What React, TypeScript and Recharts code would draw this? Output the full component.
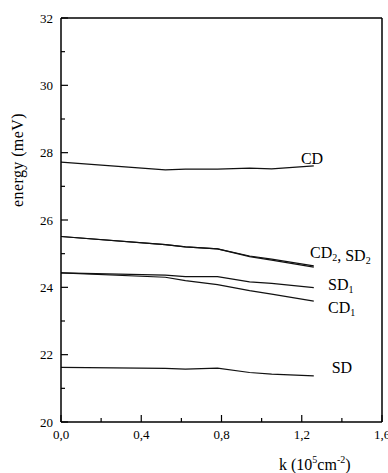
import { LineChart, Line, XAxis, YAxis, ReferenceLine, ReferenceDot } from "recharts";

// wave vector k (10^5 cm^-2) and mode energies (meV)
const K = [0, 0.52, 0.62, 0.78, 0.94, 1.05, 1.26];
const CD = [27.72, 27.49, 27.51, 27.51, 27.54, 27.52, 27.61];
const CD2 = [25.51, 25.27, 25.2, 25.14, 24.93, 24.84, 24.64];
const SD2 = [25.51, 25.27, 25.2, 25.14, 24.91, 24.81, 24.6];
const SD1 = [24.43, 24.36, 24.32, 24.32, 24.16, 24.12, 23.99];
const CD1 = [24.43, 24.3, 24.2, 24.08, 23.9, 23.8, 23.59];
const SD = [21.62, 21.59, 21.57, 21.6, 21.47, 21.42, 21.37];

const X_TICKS = [0, 0.2, 0.4, 0.6, 0.8, 1.0, 1.2, 1.4, 1.6];
const X_LABELED = [0, 0.4, 0.8, 1.2, 1.6];
const Y_TICKS = [20, 21, 22, 23, 24, 25, 26, 27, 28, 29, 30, 31, 32];

// curve labels: text, subscript, anchor (k, energy) at the text's left baseline
const CURVE_LABELS = [
  { parts: [["CD", ""]], k: 1.196, e: 27.65 },
  { parts: [["CD", "2"], [", SD", "2"]], k: 1.241, e: 24.86 },
  { parts: [["SD", "1"]], k: 1.331, e: 23.91 },
  { parts: [["CD", "1"]], k: 1.331, e: 23.23 },
  { parts: [["SD", ""]], k: 1.349, e: 21.45 },
];

const SERIES = [
  { key: "cd", values: CD },
  { key: "cd2", values: CD2 },
  { key: "sd2", values: SD2 },
  { key: "sd1", values: SD1 },
  { key: "cd1", values: CD1 },
  { key: "sd", values: SD },
];

const data = K.map((k, i) => {
  const row: Record<string, number> = { k };
  SERIES.forEach((s) => (row[s.key] = s.values[i]));
  return row;
});

const FONT = "'Liberation Serif', 'Times New Roman', serif";
const W = 388;
const H = 473;
const TOP = 18;
const LEFT = 61;
const BOTTOM = 422;

const fmt = (v: number) => v.toFixed(1).replace(".", ",");

function XTick(props: any) {
  const { x, payload } = props;
  const major = X_LABELED.some((t) => Math.abs(t - payload.value) < 1e-6);
  return (
    <g>
      <line x1={x} x2={x} y1={BOTTOM} y2={BOTTOM - (major ? 7 : 4)} stroke="#000" strokeWidth={1.2} />
      {major && (
        <text x={x} y={438.5} textAnchor="middle" fontFamily={FONT} fontSize={13} fill="#000">
          {fmt(payload.value)}
        </text>
      )}
    </g>
  );
}

function YTick(props: any) {
  const { y, payload } = props;
  const major = payload.value % 2 === 0;
  return (
    <g>
      <line x1={LEFT} x2={LEFT + (major ? 7 : 4)} y1={y} y2={y} stroke="#000" strokeWidth={1.2} />
      {major && (
        <text x={53} y={y + 4.5} textAnchor="end" fontFamily={FONT} fontSize={13} fill="#000">
          {payload.value}
        </text>
      )}
    </g>
  );
}

function curveLabel(parts: string[][]) {
  return (p: any) => {
    const vb = p.viewBox || {};
    const x = vb.x + (vb.width || 0) / 2;
    const y = vb.y + (vb.height || 0) / 2;
    return (
      <text x={x} y={y} fontFamily={FONT} fontSize={16} fill="#000">
        {parts.map(([main, sub], i) => (
          <tspan key={i}>
            <tspan>{main}</tspan>
            {sub && (
              <tspan fontSize={10} dy={3}>
                {sub}
              </tspan>
            )}
            {sub && <tspan dy={-3}>{""}</tspan>}
          </tspan>
        ))}
      </text>
    );
  };
}

export default function App() {
  return (
    <div style={{ position: "absolute", left: 0, top: 0, width: W, height: H, background: "#fff" }}>
      <LineChart
        width={W}
        height={H}
        data={data}
        margin={{ top: TOP, right: W - 382, left: 0, bottom: 0 }}
      >
        <XAxis
          dataKey="k"
          type="number"
          domain={[0, 1.6]}
          ticks={X_TICKS}
          interval={0}
          height={H - BOTTOM}
          tickLine={false}
          axisLine={{ stroke: "#000", strokeWidth: 1.5 }}
          tick={<XTick />}
          label={{
            content: () => (
              <text x={279} y={470} fontFamily={FONT} fontSize={16} fill="#000">
                <tspan>k (10</tspan>
                <tspan fontSize={10} dy={-7}>5</tspan>
                <tspan dy={7}>cm</tspan>
                <tspan fontSize={10} dy={-7}>-2</tspan>
                <tspan dy={7}>)</tspan>
              </text>
            ),
          }}
        />
        <YAxis
          type="number"
          domain={[20, 32]}
          ticks={Y_TICKS}
          interval={0}
          width={LEFT}
          tickLine={false}
          axisLine={{ stroke: "#000", strokeWidth: 1.5 }}
          tick={<YTick />}
          label={{
            content: () => (
              <text
                x={23}
                y={160}
                transform="rotate(-90 23 160)"
                textAnchor="middle"
                fontFamily={FONT}
                fontSize={16}
                letterSpacing={0.4}
                fill="#000"
              >
                energy (meV)
              </text>
            ),
          }}
        />
        <ReferenceLine y={32} stroke="#000" strokeWidth={1.5} />
        <ReferenceLine x={1.6} stroke="#000" strokeWidth={1.5} />
        {SERIES.map((s) => (
          <Line
            key={s.key}
            dataKey={s.key}
            type="linear"
            stroke="#111"
            strokeWidth={1.2}
            dot={false}
            isAnimationActive={false}
          />
        ))}
        {CURVE_LABELS.map((l, i) => (
          <ReferenceDot
            key={i}
            x={l.k}
            y={l.e}
            r={0}
            fill="none"
            stroke="none"
            label={{ content: curveLabel(l.parts) }}
          />
        ))}
      </LineChart>
    </div>
  );
}
